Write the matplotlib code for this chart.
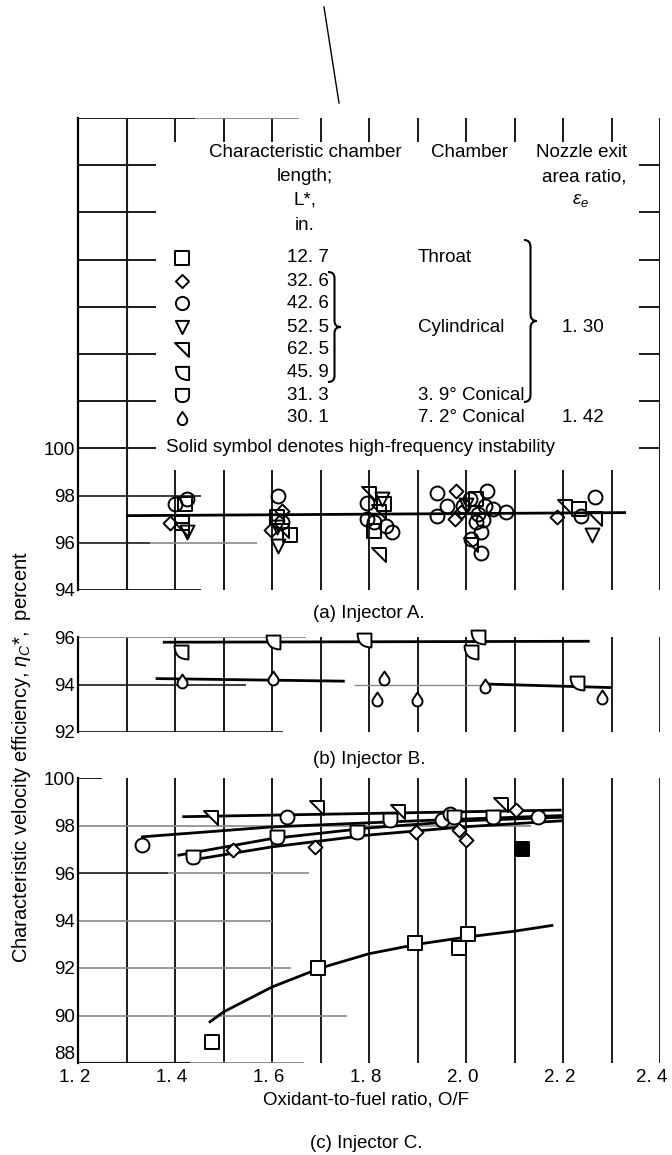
import numpy as np
import matplotlib
matplotlib.use("Agg")
import matplotlib.pyplot as plt
import matplotlib.transforms as mtrans
from matplotlib.path import Path
from matplotlib.patches import PathPatch

plt.rcParams['font.family'] = ['Liberation Sans', 'DejaVu Sans']
plt.rcParams['mathtext.fontset'] = 'custom'
plt.rcParams['mathtext.rm'] = 'Liberation Sans'
plt.rcParams['mathtext.it'] = 'Liberation Sans:italic'

# ---------------- data ----------------
# legend
lstar = ['12. 7', '32. 6', '42. 6', '52. 5', '62. 5', '45. 9', '31. 3', '30. 1']
chamber = ['Throat', '', '', 'Cylindrical', '', '', '3. 9° Conical', '7. 2° Conical']
nozzle = ['', '', '', '1. 30', '', '', '', '1. 42']

# (a) Injector A
a_sq_x = [1.42, 1.415, 1.61, 1.637, 1.83, 1.81, 2.02, 2.232]
a_sq_y = [97.65, 96.85, 97.1, 96.35, 97.64, 96.5, 97.85, 97.43]
a_dia_x = [1.39, 1.598, 1.62, 1.98, 1.977, 1.99, 2.188]
a_dia_y = [96.85, 96.55, 97.35, 98.2, 97.0, 97.3, 97.08]
a_circ_x = [1.40, 1.425, 1.613, 1.62, 1.795, 1.795, 1.81, 1.836, 1.847, 1.94, 1.94,
            1.96, 1.994, 2.008, 2.043, 2.04, 2.056, 2.02, 2.03, 2.01, 2.03, 2.082,
            2.237, 2.267, 2.025, 2.035]
a_circ_y = [97.65, 97.85, 98.0, 96.9, 97.7, 97.0, 96.87, 96.73, 96.45, 98.13, 97.15,
            97.57, 97.57, 97.85, 98.2, 97.57, 97.43, 96.87, 96.45, 96.17, 95.55, 97.3,
            97.15, 97.92, 97.2, 96.95]
a_tri_x = [1.425, 1.612, 1.61, 1.826, 2.0, 2.259]
a_tri_y = [96.45, 95.85, 96.65, 97.85, 97.6, 96.31]
a_flag_x = [1.415, 1.62, 1.80, 1.82, 1.82, 2.01, 2.205, 2.267]
a_flag_y = [96.55, 96.5, 98.06, 97.3, 95.47, 95.9, 97.5, 97.0]
a_fit_x = [1.3, 2.33]
a_fit_y = [97.15, 97.28]

# (b) Injector B
b_q_x = [1.413, 1.603, 1.79, 2.01, 2.025, 2.228]
b_q_y = [95.38, 95.8, 95.88, 95.38, 95.98, 94.06]
b_tear_x = [1.414, 1.603, 1.83, 1.816, 1.898, 2.04, 2.28]
b_tear_y = [94.14, 94.28, 94.28, 93.37, 93.37, 93.92, 93.49]
b_fit1_x, b_fit1_y = [1.375, 2.255], [95.78, 95.82]
b_fit2_x, b_fit2_y = [1.36, 1.75], [94.25, 94.14]
b_fit3_x, b_fit3_y = [2.04, 2.30], [94.02, 93.87]

# (c) Injector C
c_sq_x = [1.477, 1.695, 1.895, 1.985, 2.005]
c_sq_y = [88.9, 92.0, 93.07, 92.85, 93.45]
c_sq_fit_x = [1.47, 1.5, 1.6, 1.7, 1.8, 1.9, 2.0, 2.1, 2.18]
c_sq_fit_y = [89.7, 90.15, 91.2, 92.0, 92.6, 93.0, 93.3, 93.55, 93.8]
c_solid_x, c_solid_y = [2.115], [97.02]
c_dia_x = [1.52, 1.689, 1.897, 1.985, 2.0, 2.104]
c_dia_y = [96.95, 97.1, 97.73, 97.8, 97.38, 98.65]
c_dia_fit_x = [1.43, 1.6, 1.8, 2.0, 2.2]
c_dia_fit_y = [96.53, 97.1, 97.6, 97.95, 98.2]
c_circ_x = [1.331, 1.63, 1.95, 1.967, 2.148]
c_circ_y = [97.17, 98.37, 98.23, 98.5, 98.37]
c_circ_fit_x = [1.33, 1.6, 1.9, 2.2]
c_circ_fit_y = [97.52, 97.94, 98.2, 98.42]
c_flag_x = [1.475, 1.692, 1.86, 2.073]
c_flag_y = [98.3, 98.72, 98.58, 98.86]
c_flag_fit_x = [1.415, 2.197]
c_flag_fit_y = [98.37, 98.65]
c_u_x = [1.438, 1.61, 1.775, 1.843, 1.975, 2.056]
c_u_y = [96.67, 97.52, 97.73, 98.23, 98.35, 98.37]
c_u_fit_x = [1.405, 1.6, 1.8, 2.0, 2.2]
c_u_fit_y = [96.74, 97.45, 97.9, 98.2, 98.35]
x_ticks = [1.2, 1.4, 1.6, 1.8, 2.0, 2.2, 2.4]
x_ticklabels = ['1. 2', '1. 4', '1. 6', '1. 8', '2. 0', '2. 2', '2. 4']

# ---------------- marker shapes ----------------
M, L, C3, CL = Path.MOVETO, Path.LINETO, Path.CURVE3, Path.CLOSEPOLY
SQ = Path([(-1, -1), (1, -1), (1, 1), (-1, 1), (-1, -1)], closed=True)
DIA = Path([(0, -1), (1, 0), (0, 1), (-1, 0), (0, -1)], closed=True)
TRI = Path([(-1, 1), (1, 1), (0, -1), (-1, 1)], closed=True)
FLAG = Path([(-1, 1), (1, 1), (1, -1), (-1, 1)], closed=True)
QTR = Path([(-1, 1), (1, 1), (1, -1), (-1, -1), (-1, 1), (-1, 1)],
           [M, L, L, C3, C3, CL])
UU = Path([(-1, 1), (1, 1), (1, 0), (1, -1), (0, -1), (-1, -1), (-1, 0), (-1, 1)],
          [M, L, L, C3, C3, C3, C3, CL])
th = np.radians(np.linspace(35, -215, 30))
TEAR = Path([(0, 1)] + list(zip(0.72 * np.cos(th), -0.28 + 0.72 * np.sin(th))) + [(0, 1)],
            closed=True)
legend_marks = [SQ, DIA, 'o', TRI, FLAG, QTR, UU, TEAR]

W, H = 672, 1155
fig = plt.figure(figsize=(W / 100, H / 100), dpi=100)


def fx(px):
    return px / W


def fy(py):
    return 1 - py / H


X0, X1 = 78, 660
FS = 13.5
grid_x = np.round(np.arange(1.3, 2.41, 0.1), 2)


def make_ax(top, bottom, ylo, yhi, yticks):
    ax = fig.add_axes([fx(X0), fy(bottom), (X1 - X0) / W, (bottom - top) / H])
    ax.set_xlim(1.2, 2.4)
    ax.set_ylim(ylo, yhi)
    for s in ['top', 'right', 'bottom']:
        ax.spines[s].set_visible(False)
    ax.spines['left'].set_linewidth(1.6)
    ax.set_yticks(yticks)
    ax.set_yticklabels([str(t) for t in yticks], fontsize=FS)
    ax.set_xticks([])
    ax.tick_params(length=0, pad=2)
    return ax


def pts(ax, x, y, mk, ms=10, fc='white', z=4):
    ax.plot(x, y, linestyle='none', marker=mk, ms=ms, mfc=fc, mec='black',
            mew=1.4, zorder=z, clip_on=False)


def fit(ax, x, y):
    ax.plot(x, y, color='black', lw=2.0, zorder=3, solid_capstyle='butt')


dark, grey = '#1a1a1a', '#8a8a8a'

# ---------------- (a) ----------------
axa = make_ax(118, 590, 94, 114, [94, 96, 98, 100])
axa.vlines(1.3, 94, 114, color=dark, lw=1.5)
axa.vlines(grid_x[1:], 94, 99.1, color=dark, lw=1.4)
axa.vlines(grid_x[1:-1], 113.0, 114, color=dark, lw=1.4)
axa.vlines(2.4, 94, 114, color=dark, lw=1.5)
for yv in [102, 104, 106, 108, 110, 112, 100]:
    axa.hlines(yv, 1.2, 1.361, color=dark, lw=1.4)
    axa.hlines(yv, 2.357, 2.4, color=dark, lw=1.4)
axa.hlines(114, 1.2, 1.441, color=dark, lw=1.4)
axa.hlines(114, 1.441, 1.656, color=grey, lw=1.4)
axa.hlines(98, 1.2, 1.454, color=dark, lw=1.2)
axa.hlines(96, 1.2, 1.348, color=dark, lw=1.2)
axa.hlines(96, 1.348, 1.569, color=grey, lw=1.2)
axa.hlines(94, 1.2, 1.454, color=dark, lw=1.4)
fit(axa, a_fit_x, a_fit_y)
pts(axa, a_circ_x, a_circ_y, 'o', fc='none')
pts(axa, a_sq_x, a_sq_y, SQ, fc='none')
pts(axa, a_dia_x, a_dia_y, DIA, fc='none')
pts(axa, a_tri_x, a_tri_y, TRI, fc='none')
pts(axa, a_flag_x, a_flag_y, FLAG, fc='none')

# ---------------- (b) ----------------
axb = make_ax(637, 732, 92, 96, [92, 94, 96])
axb.vlines(grid_x, 92, 96, color=dark, lw=1.4)
axb.hlines(96, 1.2, 1.67, color=grey, lw=1.3)
axb.hlines(94, 1.2, 1.546, color=dark, lw=1.2)
axb.hlines(94, 1.77, 2.03, color=grey, lw=1.0)
axb.hlines(92, 1.2, 1.623, color=dark, lw=1.3)
fit(axb, b_fit1_x, b_fit1_y)
fit(axb, b_fit2_x, b_fit2_y)
fit(axb, b_fit3_x, b_fit3_y)
pts(axb, b_q_x, b_q_y, QTR)
pts(axb, b_tear_x, b_tear_y, TEAR)

# ---------------- (c) ----------------
axc = make_ax(778, 1063, 88, 100, [88, 90, 92, 94, 96, 98, 100])
axc.vlines(grid_x, 88, 100, color=dark, lw=1.4)
axc.hlines(100, 1.2, 1.25, color=dark, lw=1.4)
axc.hlines(98, 1.2, 2.134, color=grey, lw=1.2)
axc.hlines(96, 1.2, 1.385, color=dark, lw=1.2)
axc.hlines(96, 1.385, 1.676, color=grey, lw=1.2)
axc.hlines(94, 1.2, 1.60, color=grey, lw=1.2)
axc.hlines(92, 1.2, 1.64, color=grey, lw=1.2)
axc.hlines(90, 1.2, 1.755, color=grey, lw=1.2)
axc.hlines(88, 1.2, 1.43, color=dark, lw=1.6)
axc.hlines(88, 1.43, 1.665, color=grey, lw=1.4)
fit(axc, c_sq_fit_x, c_sq_fit_y)
fit(axc, c_dia_fit_x, c_dia_fit_y)
fit(axc, c_u_fit_x, c_u_fit_y)
fit(axc, c_circ_fit_x, c_circ_fit_y)
fit(axc, c_flag_fit_x, c_flag_fit_y)
pts(axc, c_sq_x, c_sq_y, SQ)
pts(axc, c_solid_x, c_solid_y, SQ, fc='black')
pts(axc, c_dia_x, c_dia_y, DIA)
pts(axc, c_circ_x, c_circ_y, 'o')
pts(axc, c_flag_x, c_flag_y, FLAG)
pts(axc, c_u_x, c_u_y, UU)
axc.set_xticks(x_ticks)
axc.set_xticklabels(x_ticklabels, fontsize=FS)
axc.tick_params(axis='x', length=0, pad=4)
axc.get_yticklabels()[0].set_va('bottom')
xlabs = axc.get_xticklabels()
for i, lab in enumerate(xlabs):
    shift = -8 if i == len(xlabs) - 1 else -3
    lab.set_transform(lab.get_transform() +
                      mtrans.ScaledTranslation(shift / 100, 0, fig.dpi_scale_trans))

# ---------------- texts ----------------
fig.text(fx(369), fy(613), '(a) Injector A.', ha='center', va='center', fontsize=FS)
fig.text(fx(369), fy(759), '(b) Injector B.', ha='center', va='center', fontsize=FS)
fig.text(fx(366), fy(1100), 'Oxidant-to-fuel ratio, O/F', ha='center', va='center', fontsize=FS)
fig.text(fx(366), fy(1143), '(c) Injector C.', ha='center', va='center', fontsize=FS)
fig.text(fx(22), fy(757), r'Characteristic velocity efficiency, $\eta_C$*,  percent',
         rotation=90, ha='center', va='center', fontsize=14.5)
fig.text(fx(360), fy(447), 'Solid symbol denotes high-frequency instability',
         ha='center', va='center', fontsize=FS)

# legend header
for txt, yy in [('Characteristic chamber', 153), ('length;', 177), ('L*,', 200), ('in.', 225)]:
    fig.text(fx(305), fy(yy), txt, ha='center', va='center', fontsize=FS)
fig.text(fx(470), fy(153), 'Chamber', ha='center', va='center', fontsize=FS)
fig.text(fx(582), fy(153), 'Nozzle exit', ha='center', va='center', fontsize=FS)
fig.text(fx(584), fy(177), 'area ratio,', ha='center', va='center', fontsize=FS)
fig.text(fx(581), fy(201), r'$\epsilon_e$', ha='center', va='center', fontsize=FS)

row_y = [258, 281, 303, 327, 350, 373, 395, 418]
for mk, lab, ch, nz, yy in zip(legend_marks, lstar, chamber, nozzle, row_y):
    fig.add_artist(plt.Line2D([fx(182)], [fy(yy)], marker=mk, ms=9.5, mfc='white',
                              mec='black', mew=1.4, linestyle='none',
                              transform=fig.transFigure))
    fig.text(fx(287), fy(yy), lab, ha='left', va='center', fontsize=FS)
    if ch:
        fig.text(fx(418), fy(yy), ch, ha='left', va='center', fontsize=FS)
    if nz:
        fig.text(fx(583), fy(yy), nz, ha='center', va='center', fontsize=FS)


def brace(x, y0, y1, w, r):
    ym = (y0 + y1) / 2
    xm = x + w / 2
    v = [(x, y0), (xm, y0), (xm, y0 + r), (xm, ym - r), (xm, ym), (x + w, ym),
         (xm, ym), (xm, ym + r), (xm, y1 - r), (xm, y1), (x, y1)]
    c = [M, C3, C3, L, C3, C3, C3, C3, L, C3, C3]
    v = [(fx(a), fy(b)) for a, b in v]
    fig.add_artist(PathPatch(Path(v, c), fill=False, lw=1.5, ec='black',
                             transform=fig.transFigure))


brace(328, 272, 382, 13, 6)
brace(524, 240, 402, 13, 7)

# scanning stroke at the top of the sheet
fig.add_artist(plt.Line2D([fx(324), fx(339)], [fy(7), fy(103)], color='black', lw=1.0,
                          transform=fig.transFigure))

fig.savefig('out.png', dpi=100)
